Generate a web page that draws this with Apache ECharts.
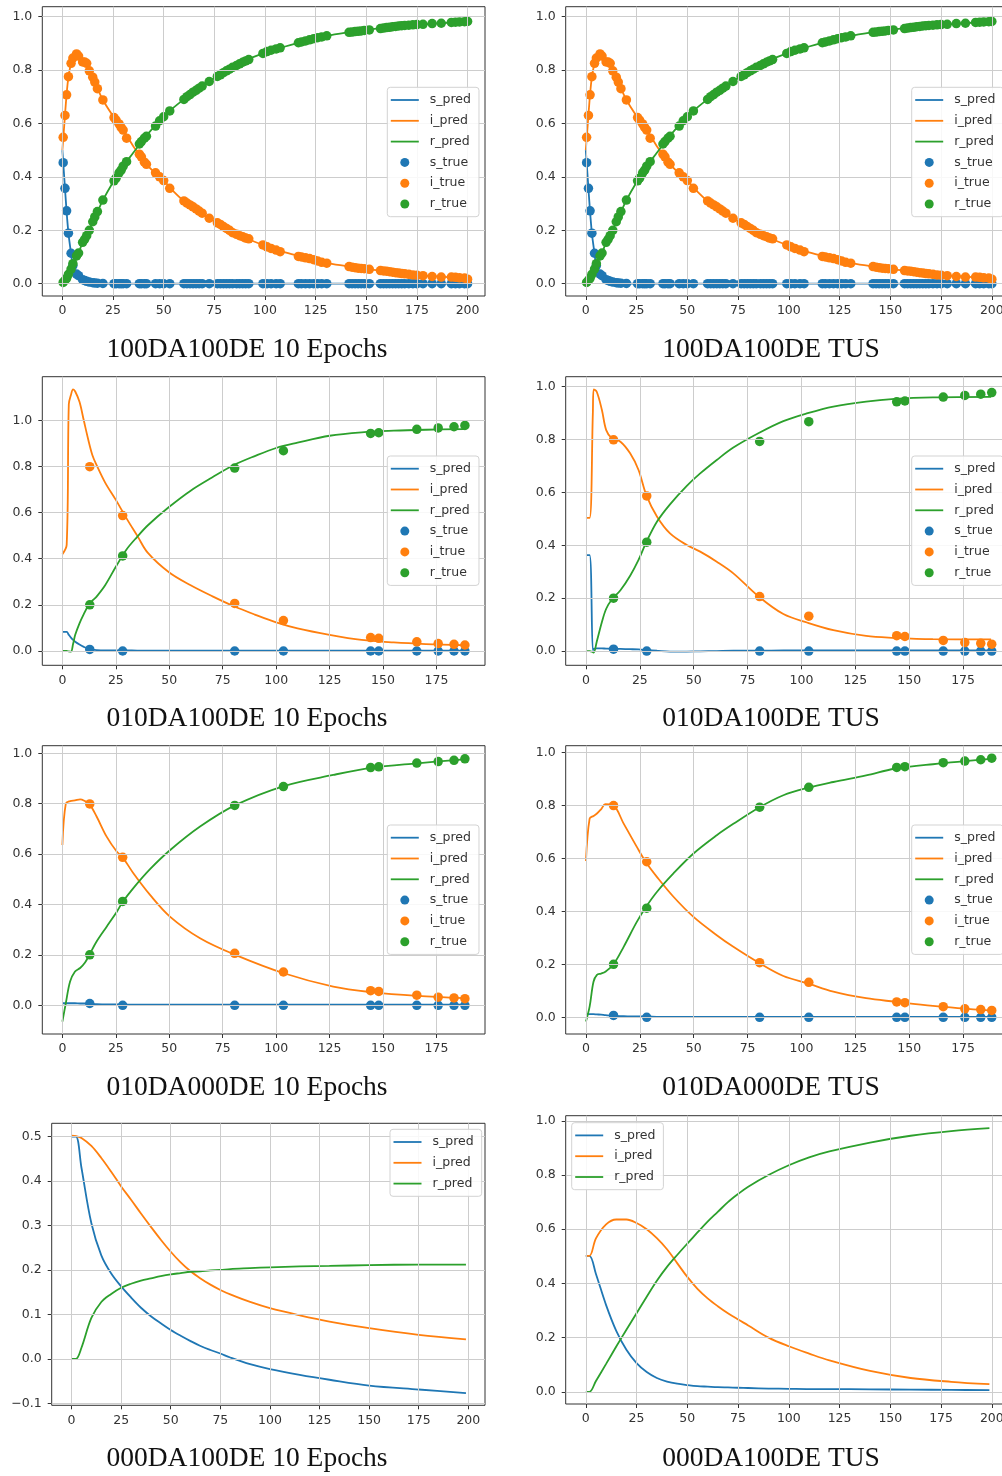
<!DOCTYPE html>
<html>
<head>
<meta charset="utf-8">
<script src="https://cdn.jsdelivr.net/npm/echarts@6/dist/echarts.min.js"></script>
<style>
  html, body { margin: 0; padding: 0; background: #ffffff; }
  #chart { width: 1002px; height: 1476px; }
</style>
</head>
<body>
<div id="chart"></div>
<script>
// ---------------------------------------------------------------------------
// Observations, full data set (used by the 100DA100DE runs)
// ---------------------------------------------------------------------------
const denseT = [
  0.4, 1.3, 2.1, 3.0, 4.3, 5.2, 7.0, 8.0, 10.0, 11.0, 12.0, 13.3, 15.0, 16.0, 17.3, 20.0,
  25.5, 26.5, 28.0, 29.0, 30.0, 31.7,
  38.0, 39.0, 40.5, 41.5,
  46.0, 48.0, 50.0, 53.0,
  60.0, 61.5, 63.0, 64.5, 66.0, 67.5, 69.0,
  72.5, 76.5, 78.0, 79.5, 81.0, 82.5, 84.0, 86.0, 87.5, 89.0, 90.5, 92.0,
  99.0, 101.0, 103.0, 105.5, 107.5,
  116.5, 118.0, 120.0, 122.0, 124.0, 126.0, 128.0, 130.5,
  141.5, 143.0, 144.5, 146.0, 147.5, 149.0, 151.5,
  157.0, 158.5, 160.0, 161.5, 163.0, 164.5, 166.0, 167.5, 169.0, 171.0, 173.0, 175.0, 178.0, 182.5, 187.0, 192.0, 194.0, 196.0, 198.5, 200.0
];
const denseS = [
  0.453, 0.357, 0.273, 0.189, 0.114, 0.068, 0.036, 0.030, 0.015, 0.012, 0.009, 0.006, 0.004, 0.003, 0.002, 0.001,
  0, 0, 0, 0, 0, 0,
  0, 0, 0, 0,
  0, 0, 0, 0,
  0, 0, 0, 0, 0, 0, 0,
  0, 0, 0, 0, 0, 0, 0, 0, 0, 0, 0, 0,
  0, 0, 0, 0, 0,
  0, 0, 0, 0, 0, 0, 0, 0,
  0, 0, 0, 0, 0, 0, 0,
  0, 0, 0, 0, 0, 0, 0, 0, 0, 0, 0, 0, 0, 0, 0, 0, 0, 0, 0, 0
];
const denseI = [
  0.548, 0.630, 0.707, 0.775, 0.825, 0.845, 0.860, 0.852, 0.830, 0.830, 0.825, 0.797, 0.773, 0.755, 0.730, 0.688,
  0.622, 0.612, 0.598, 0.585, 0.575, 0.545,
  0.485, 0.475, 0.455, 0.447,
  0.415, 0.400, 0.386, 0.357,
  0.310, 0.302, 0.295, 0.288, 0.280, 0.272, 0.264,
  0.245, 0.228, 0.222, 0.214, 0.207, 0.200, 0.191, 0.185, 0.180, 0.176, 0.171, 0.168,
  0.145, 0.138, 0.132, 0.126, 0.120,
  0.102, 0.100, 0.097, 0.094, 0.090, 0.085, 0.080, 0.077,
  0.064, 0.062, 0.060, 0.058, 0.057, 0.056, 0.054,
  0.049, 0.048, 0.047, 0.045, 0.043, 0.041, 0.040, 0.038, 0.037, 0.035, 0.033, 0.032, 0.030, 0.027, 0.025, 0.025, 0.024, 0.022, 0.021, 0.017
];
const denseR = [
  0.005, 0.013, 0.020, 0.035, 0.055, 0.075, 0.104, 0.115, 0.155, 0.166, 0.180, 0.200, 0.232, 0.250, 0.270, 0.313,
  0.385, 0.395, 0.415, 0.425, 0.440, 0.457,
  0.523, 0.532, 0.545, 0.552,
  0.590, 0.610, 0.625, 0.647,
  0.690, 0.700, 0.708, 0.717, 0.724, 0.732, 0.740,
  0.757, 0.776, 0.782, 0.790, 0.797, 0.803, 0.810, 0.817, 0.823, 0.829, 0.834, 0.839,
  0.862, 0.869, 0.874, 0.879, 0.883,
  0.902, 0.905, 0.909, 0.913, 0.917, 0.921, 0.924, 0.928,
  0.941, 0.942, 0.944, 0.945, 0.946, 0.948, 0.950,
  0.955, 0.957, 0.959, 0.960, 0.962, 0.963, 0.965, 0.966, 0.967, 0.968, 0.969, 0.970, 0.971, 0.974, 0.975, 0.978, 0.979, 0.980, 0.981, 0.982
];

// Observations, 10 % of the data (used by the 010DA runs)
const sparseT = [12.8, 28.2, 80.6, 103.4, 144.2, 148.0, 165.8, 175.8, 183.2, 188.3];
const sparseS = [0.007, 0, 0, 0, 0, 0, 0, 0, 0, 0];
const sparseI = [0.799, 0.587, 0.206, 0.132, 0.058, 0.055, 0.040, 0.032, 0.029, 0.026];
const sparseR = [0.200, 0.412, 0.793, 0.868, 0.943, 0.946, 0.961, 0.967, 0.972, 0.978];

// ---------------------------------------------------------------------------
// Network predictions
// ---------------------------------------------------------------------------
// 100DA100DE (10 epochs and TUS give the same curves)
const fitA_T = [0, 1, 2, 3, 4, 5, 6, 7, 8, 9, 10, 12, 14, 16, 18, 20, 25, 30, 35, 40, 45, 50, 55, 60, 70, 80, 90, 100, 110, 120, 130, 140, 150, 160, 170, 180, 190, 200];
const fitA_S = [0.5, 0.39, 0.28, 0.189, 0.13, 0.075, 0.05, 0.036, 0.03, 0.02, 0.015, 0.009, 0.005, 0.003, 0.002, 0.001,
                0, 0, 0, 0, 0, 0, 0, 0, 0, 0, 0, 0, 0, 0, 0, 0, 0, 0, 0, 0, 0, 0];
const fitA_I = [0.5, 0.6, 0.7, 0.775, 0.815, 0.843, 0.855, 0.86, 0.852, 0.84, 0.83, 0.825, 0.785, 0.755, 0.72, 0.688,
                0.628, 0.575, 0.515, 0.46, 0.42, 0.386, 0.345, 0.31,
                0.258, 0.212, 0.173, 0.142, 0.117, 0.097, 0.078, 0.066, 0.055, 0.047, 0.036, 0.029, 0.025, 0.017];
const fitA_R = [0, 0.01, 0.02, 0.035, 0.05, 0.075, 0.09, 0.104, 0.115, 0.135, 0.155, 0.18, 0.215, 0.25, 0.28, 0.313,
                0.38, 0.44, 0.49, 0.54, 0.585, 0.625, 0.66, 0.69,
                0.745, 0.793, 0.834, 0.865, 0.888, 0.909, 0.927, 0.94, 0.95, 0.959, 0.968, 0.972, 0.977, 0.982];

// 010DA100DE, 10 epochs
const fitB_T = [0, 2, 3, 4, 5, 6, 8, 10, 12, 14, 16, 20, 25, 30, 35, 40, 50, 60, 70, 80, 90, 100, 110, 125, 140, 155, 170, 188];
const fitB_S = [0.083, 0.083, 0.07, 0.058, 0.048, 0.04, 0.028, 0.018, 0.01, 0.006, 0.004, 0.003, 0.003, 0.003,
                0.002, 0.002, 0.002, 0.002, 0.002, 0.002, 0.002, 0.002, 0.002, 0.002, 0.002, 0.002, 0.002, 0.002];
const fitB_I = [0.42, 0.46, 1.07, 1.11, 1.134, 1.125, 1.08, 1.0, 0.92, 0.85, 0.806, 0.73, 0.655, 0.575, 0.5,
                0.425, 0.34, 0.285, 0.238, 0.195, 0.158, 0.124, 0.098, 0.07, 0.048, 0.037, 0.03, 0.025];
const fitB_R = [0, 0, -0.002, -0.003, 0.03, 0.07, 0.12, 0.16, 0.195, 0.218, 0.236, 0.285, 0.365, 0.44, 0.495,
                0.545, 0.625, 0.695, 0.752, 0.805, 0.845, 0.88, 0.903, 0.933, 0.948, 0.955, 0.959, 0.962];

// 010DA100DE, TUS
const fitC_T = [0, 1.7, 3.2, 3.6, 5, 7.4, 9.4, 12, 16, 20.5, 24.4, 28, 33, 39, 46.8, 53, 60.7, 68.4, 80.2, 91.6, 102.9, 114.8, 130, 143.3, 161, 188];
const fitC_S = [0.363, 0.363, 0.003, 0.008, 0.01, 0.01, 0.009, 0.009, 0.008, 0.007, 0.006, 0.004, 0.001, -0.002, -0.002,
                -0.001, 0, 0.001, 0.001, 0.002, 0.002, 0.002, 0.002, 0.002, 0.002, 0.002];
const fitC_I = [0.504, 0.504, 0.9, 0.99, 0.981, 0.912, 0.836, 0.805, 0.792, 0.748, 0.685, 0.59, 0.508, 0.445, 0.401,
                0.376, 0.338, 0.294, 0.206, 0.14, 0.107, 0.079, 0.057, 0.05, 0.045, 0.044];
const fitC_R = [0, 0, -0.004, -0.006, 0.035, 0.11, 0.16, 0.195, 0.23, 0.285, 0.345, 0.412, 0.49, 0.555, 0.625,
                0.672, 0.723, 0.77, 0.825, 0.87, 0.9, 0.925, 0.944, 0.954, 0.96, 0.962];

// 010DA000DE, 10 epochs
const fitD_T = [0, 1.6, 3.6, 5.9, 8.3, 10.6, 12.6, 16, 20.7, 25.4, 28.2, 33.2, 41, 50.3, 64.4, 80.9, 103.6, 126.7, 144.5, 166, 188];
const fitD_S = [0.008, 0.008, 0.008, 0.008, 0.007, 0.007, 0.006, 0.004, 0.003, 0.003, 0.003,
                0.002, 0.002, 0.002, 0.002, 0.002, 0.002, 0.002, 0.002, 0.002, 0.002];
const fitD_I = [0.636, 0.8, 0.81, 0.813, 0.817, 0.81, 0.799, 0.749, 0.669, 0.61, 0.587, 0.524, 0.438, 0.352,
                0.266, 0.2, 0.127, 0.074, 0.052, 0.037, 0.028];
const fitD_R = [-0.065, 0.008, 0.094, 0.134, 0.148, 0.17, 0.2, 0.253, 0.312, 0.37, 0.41, 0.465, 0.54, 0.615,
                0.709, 0.794, 0.87, 0.914, 0.942, 0.96, 0.976];

// 010DA000DE, TUS
const fitE_T = [0, 1.7, 3.5, 5.1, 7, 9, 12.8, 17.5, 23.6, 28, 32.9, 40.6, 49.9, 60.7, 68.4, 80.2, 91.6, 102.9, 114.8, 130, 143.3, 161, 188];
const fitE_S = [0.013, 0.012, 0.012, 0.011, 0.01, 0.008, 0.005, 0.004, 0.003, 0.003,
                0.002, 0.002, 0.002, 0.002, 0.002, 0.002, 0.002, 0.002, 0.002, 0.002, 0.002, 0.002, 0.002];
const fitE_I = [0.59, 0.75, 0.76, 0.769, 0.785, 0.804, 0.799, 0.731, 0.643, 0.583, 0.53, 0.455, 0.379, 0.31,
                0.266, 0.206, 0.156, 0.128, 0.097, 0.072, 0.059, 0.043, 0.025];
const fitE_R = [-0.016, 0.04, 0.134, 0.16, 0.165, 0.172, 0.2, 0.266, 0.36, 0.418, 0.473, 0.543, 0.618, 0.687,
                0.73, 0.791, 0.838, 0.866, 0.888, 0.913, 0.938, 0.955, 0.975];

// 000DA100DE, 10 epochs
const fitF_T = [0, 2.2, 5, 10, 15, 20, 25, 30, 35, 40, 45, 50, 55, 60, 65, 70, 75, 80, 90, 100, 115, 130, 150, 175, 198.8];
const fitF_S = [0.5, 0.5, 0.43, 0.305, 0.233, 0.192, 0.163, 0.138, 0.115, 0.096, 0.08, 0.065, 0.052, 0.04, 0.029,
                0.02, 0.012, 0.003, -0.012, -0.023, -0.036, -0.047, -0.06, -0.069, -0.077];
const fitF_I = [0.502, 0.501, 0.497, 0.479, 0.452, 0.421, 0.388, 0.358, 0.327, 0.297, 0.268, 0.241, 0.217, 0.197, 0.181,
                0.167, 0.155, 0.145, 0.128, 0.114, 0.098, 0.084, 0.069, 0.054, 0.044];
const fitF_R = [0, 0, 0.025, 0.092, 0.128, 0.146, 0.16, 0.169, 0.176, 0.181, 0.186, 0.19, 0.193, 0.196, 0.197,
                0.199, 0.2, 0.202, 0.204, 0.206, 0.208, 0.209, 0.211, 0.212, 0.212];

// 000DA100DE, TUS
const fitG_T = [0, 1.8, 5, 10, 15, 20, 25, 30, 35, 40, 45, 50, 55, 60, 65, 70, 75, 80, 90, 100, 110, 120, 140, 160, 180, 198.8];
const fitG_S = [0.502, 0.502, 0.435, 0.32, 0.225, 0.155, 0.106, 0.073, 0.051, 0.038, 0.03, 0.025, 0.021, 0.019, 0.017,
                0.016, 0.015, 0.014, 0.012, 0.011, 0.01, 0.01, 0.009, 0.008, 0.007, 0.006];
const fitG_I = [0.502, 0.502, 0.566, 0.618, 0.636, 0.636, 0.623, 0.6, 0.567, 0.526, 0.475, 0.424, 0.38, 0.345, 0.316,
                0.29, 0.267, 0.245, 0.2, 0.168, 0.141, 0.116, 0.077, 0.051, 0.037, 0.028];
const fitG_R = [0, 0, 0.04, 0.103, 0.167, 0.229, 0.29, 0.351, 0.41, 0.461, 0.505, 0.547, 0.588, 0.628, 0.664,
                0.7, 0.73, 0.757, 0.8, 0.836, 0.865, 0.887, 0.92, 0.945, 0.962, 0.973];

// Tick values
const xTicks200 = [0, 25, 50, 75, 100, 125, 150, 175, 200];
const xTicks175 = [0, 25, 50, 75, 100, 125, 150, 175];
const yTicksUnit = [0, 0.2, 0.4, 0.6, 0.8, 1.0];
const yTicksHalf = [-0.1, 0, 0.1, 0.2, 0.3, 0.4, 0.5];

const panelTitles = [
  '100DA100DE 10 Epochs', '100DA100DE TUS',
  '010DA100DE 10 Epochs', '010DA100DE TUS',
  '010DA000DE 10 Epochs', '010DA000DE TUS',
  '000DA100DE 10 Epochs', '000DA100DE TUS'
];
const predNames = ['s_pred', 'i_pred', 'r_pred'];
const trueNames = ['s_true', 'i_true', 'r_true'];

// ---------------------------------------------------------------------------
// Layout and styling
// ---------------------------------------------------------------------------
const INK = '#333333';
const GRIDLINE = '#cdcdcd';
const TICK_FONT = 'DejaVu Sans';
const COLORS = ['#1f77b4', '#ff7f0e', '#2ca02c'];
const LINE_ICON = 'path://M0,0L28,0L28,1.8L0,1.8Z';

const panels = [
  { grid: [42.3, 6.7, 442.7, 289.3], x: [-9.9, 208.6], y: [-0.046, 1.037], xt: xTicks200, yt: yTicksUnit,
    fit: [fitA_T, fitA_S, fitA_I, fitA_R], obs: [denseT, denseS, denseI, denseR], leg: [387.3, 87.3], title: [247, 350] },
  { grid: [565.7, 6.7, 443.6, 289.3], x: [-9.9, 208.6], y: [-0.046, 1.037], xt: xTicks200, yt: yTicksUnit,
    fit: [fitA_T, fitA_S, fitA_I, fitA_R], obs: [denseT, denseS, denseI, denseR], leg: [911.7, 87.3], title: [771, 350] },
  { grid: [42.3, 376.7, 442.7, 288.6], x: [-9.4, 197.7], y: [-0.062, 1.189], xt: xTicks175, yt: yTicksUnit,
    fit: [fitB_T, fitB_S, fitB_I, fitB_R], obs: [sparseT, sparseS, sparseI, sparseR], leg: [387.3, 456], title: [247, 719] },
  { grid: [565.7, 376.7, 446.3, 288.6], x: [-9.4, 197.7], y: [-0.054, 1.038], xt: xTicks175, yt: yTicksUnit,
    fit: [fitC_T, fitC_S, fitC_I, fitC_R], obs: [sparseT, sparseS, sparseI, sparseR], leg: [911.7, 456], title: [771, 719] },
  { grid: [42.3, 745.7, 442.7, 288.3], x: [-9.4, 197.7], y: [-0.114, 1.030], xt: xTicks175, yt: yTicksUnit,
    fit: [fitD_T, fitD_S, fitD_I, fitD_R], obs: [sparseT, sparseS, sparseI, sparseR], leg: [387.3, 825], title: [247, 1088] },
  { grid: [565.7, 745.7, 446.3, 288.3], x: [-9.4, 197.7], y: [-0.063, 1.025], xt: xTicks175, yt: yTicksUnit,
    fit: [fitE_T, fitE_S, fitE_I, fitE_R], obs: [sparseT, sparseS, sparseI, sparseR], leg: [911.7, 825], title: [771, 1088] },
  { grid: [51.7, 1123.3, 433.3, 282.0], x: [-10.0, 208.4], y: [-0.1045, 0.530], xt: xTicks200, yt: yTicksHalf,
    fit: [fitF_T, fitF_S, fitF_I, fitF_R], obs: null, leg: [390, 1129.3], title: [247, 1459] },
  { grid: [565.7, 1115.7, 443.6, 288.3], x: [-9.9, 208.6], y: [-0.045, 1.019], xt: xTicks200, yt: yTicksUnit,
    fit: [fitG_T, fitG_S, fitG_I, fitG_R], obs: null, leg: [571.7, 1122.7], title: [771, 1459] }
];

function pairs(t, v) { return t.map((x, k) => [x, v[k]]); }
function fmtY(v) {
  const s = Math.abs(v).toFixed(1);
  return v < -1e-9 ? '\u2212' + s : s;
}

const grids = [], xAxes = [], yAxes = [], series = [], legends = [], graphics = [];

panels.forEach((p, k) => {
  grids.push({
    left: p.grid[0], top: p.grid[1], width: p.grid[2], height: p.grid[3],
    show: true, borderColor: INK, borderWidth: 1, backgroundColor: 'transparent',
    containLabel: false, outerBoundsMode: 'none'
  });
  const labelStyle = { color: INK, fontFamily: TICK_FONT, fontSize: 12.5 };
  xAxes.push({
    type: 'value', gridIndex: k, min: p.x[0], max: p.x[1],
    axisLine: { show: false, onZero: false },
    axisTick: { show: true, customValues: p.xt, length: 4, lineStyle: { color: INK, width: 1 } },
    axisLabel: Object.assign({ show: true, customValues: p.xt, margin: 8.5, formatter: v => String(Math.round(v)) }, labelStyle),
    splitLine: { show: false }
  });
  yAxes.push({
    type: 'value', gridIndex: k, min: p.y[0], max: p.y[1],
    axisLine: { show: false, onZero: false },
    axisTick: { show: true, customValues: p.yt, length: 4, lineStyle: { color: INK, width: 1 } },
    axisLabel: Object.assign({ show: true, customValues: p.yt, margin: 10, formatter: fmtY }, labelStyle),
    splitLine: { show: false }
  });

  // background grid lines at the tick positions
  series.push({
    type: 'line', name: 'gridlines-' + k, xAxisIndex: k, yAxisIndex: k, data: [],
    silent: true, z: 1, animation: false,
    markLine: {
      silent: true, animation: false, symbol: ['none', 'none'],
      label: { show: false }, emphasis: { disabled: true },
      lineStyle: { color: GRIDLINE, width: 1, type: 'solid' },
      data: p.xt.map(v => ({ xAxis: v })).concat(p.yt.map(v => ({ yAxis: v })))
    }
  });

  predNames.forEach((name, j) => {
    series.push({
      type: 'line', name: name, xAxisIndex: k, yAxisIndex: k,
      data: pairs(p.fit[0], p.fit[j + 1]),
      showSymbol: false, symbol: 'none', smooth: 0.35,
      lineStyle: { color: COLORS[j], width: 1.8 }, itemStyle: { color: COLORS[j] },
      z: 3, silent: true, animation: false
    });
  });
  if (p.obs) {
    trueNames.forEach((name, j) => {
      series.push({
        type: 'scatter', name: name, xAxisIndex: k, yAxisIndex: k,
        data: pairs(p.obs[0], p.obs[j + 1]),
        symbol: 'circle', symbolSize: 9.5,
        itemStyle: { color: COLORS[j], opacity: 1 },
        z: 4, silent: true, animation: false
      });
    });
  }

  const legendData = predNames.map(n => ({ name: n, icon: LINE_ICON }));
  if (p.obs) trueNames.forEach(n => legendData.push({ name: n, icon: 'circle' }));
  legends.push({
    show: true, orient: 'vertical', left: p.leg[0], top: p.leg[1],
    itemWidth: 28, itemHeight: 9, itemGap: 6.8,
    padding: [5.7, 8, 5.7, 3.5],
    backgroundColor: 'rgba(255,255,255,0.85)', borderColor: '#d3d3d3', borderWidth: 1, borderRadius: 3,
    itemStyle: { borderWidth: 0 },
    textStyle: { color: INK, fontFamily: TICK_FONT, fontSize: 12.5, lineHeight: 14, padding: [0, 0, 0, 6] },
    selectedMode: false, z: 10,
    data: legendData
  });

  graphics.push({
    type: 'text', x: p.title[0], y: p.title[1], silent: true,
    style: {
      text: panelTitles[k], fill: '#111111',
      font: '27.5px "Liberation Serif", "Times New Roman", serif',
      align: 'center', verticalAlign: 'middle',
      textAlign: 'center', textVerticalAlign: 'middle'
    }
  });
});

const chart = echarts.init(document.getElementById('chart'), null, { renderer: 'canvas' });
chart.setOption({
  animation: false,
  backgroundColor: '#ffffff',
  grid: grids,
  xAxis: xAxes,
  yAxis: yAxes,
  legend: legends,
  series: series,
  graphic: { elements: graphics }
});
</script>
</body>
</html>
